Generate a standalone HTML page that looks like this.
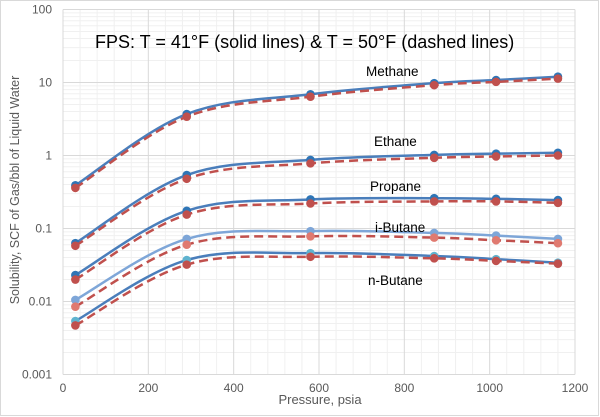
<!DOCTYPE html>
<html><head><meta charset="utf-8"><style>
html,body{margin:0;padding:0;background:#fff}
svg{display:block;font-family:"Liberation Sans",sans-serif}
</style></head><body>
<svg id="s" width="600" height="417" viewBox="0 0 600 417" xmlns="http://www.w3.org/2000/svg">
<rect x="0.5" y="0.5" width="598" height="415" fill="#fff" stroke="#d9d9d9"/>
<g id="grid"></g>
<g id="series"></g>
<g font-size="12" fill="#595959" id="labels"></g>
<text x="95" y="48" font-size="18" fill="#000">FPS: T = 41°F (solid lines) &amp; T = 50°F (dashed lines)</text>
<g font-size="13.5" fill="#000">
<text x="366" y="76">Methane</text>
<text x="374" y="146">Ethane</text>
<text x="370" y="191">Propane</text>
<text x="375" y="232">i-Butane</text>
<text x="368" y="285">n-Butane</text>
</g>
<text x="320" y="404" font-size="13" fill="#595959" text-anchor="middle">Pressure, psia</text>
<text transform="translate(19,190) rotate(-90)" font-size="12.5" fill="#595959" text-anchor="middle">Solubility, SCF of Gas/bbl of Liquid Water</text>
</svg>
<script>
const NS="http://www.w3.org/2000/svg";
const X=v=>63+v*(512/1200), Y=v=>82.5-73*(Math.log10(v)-1);
function el(p,t,a){const e=document.createElementNS(NS,t);for(const k in a)e.setAttribute(k,a[k]);p.appendChild(e);return e;}
const g=document.getElementById('grid'),L=document.getElementById('labels');
for(let d=-3;d<2;d++)for(let m=2;m<10;m++){const y=Y(m*Math.pow(10,d));el(g,'line',{x1:63,x2:575,y1:y,y2:y,stroke:'#f0f0f0','stroke-width':1});}
for(let v=40;v<1200;v+=40){if(v%200)el(g,'line',{x1:X(v),x2:X(v),y1:Y(100),y2:Y(0.001),stroke:'#f0f0f0'});}
for(let v=0;v<=1200;v+=200){el(g,'line',{x1:X(v),x2:X(v),y1:Y(100),y2:Y(0.001),stroke:'#d9d9d9'});const t=el(L,'text',{x:X(v),y:392,'text-anchor':'middle'});t.textContent=v;}
[100,10,1,0.1,0.01,0.001].forEach(v=>{el(g,'line',{x1:63,x2:575,y1:Y(v),y2:Y(v),stroke:'#d9d9d9'});const t=el(L,'text',{x:52,y:Y(v)+4,'text-anchor':'end'});t.textContent=v;});
const P=[29,290,580,870,1015,1160];
const S=[
[[0.39,3.7,6.9,9.8,10.8,12],'#4a7ebb','#2e75b6'],
[[0.36,3.4,6.4,9.2,10.2,11.3],'#c0504d','#c0504d',1],
[[0.063,0.54,0.87,1.02,1.06,1.09],'#4a7ebb','#2e75b6'],
[[0.058,0.48,0.78,0.93,0.97,1.0],'#c0504d','#c0504d',1],
[[0.023,0.175,0.25,0.26,0.255,0.245],'#4a7ebb','#2e75b6'],
[[0.020,0.155,0.22,0.235,0.235,0.225],'#c0504d','#c0504d',1],
[[0.0105,0.072,0.092,0.087,0.08,0.072],'#7ea6d8','#7ea6d8'],
[[0.0085,0.06,0.078,0.075,0.069,0.063],'#c0504d','#e07a70',1],
[[0.0054,0.037,0.046,0.042,0.038,0.034],'#4a7ebb','#5fb3cf'],
[[0.0047,0.032,0.041,0.039,0.036,0.033],'#c0504d','#c0504d',1]];
const sg=document.getElementById('series');
S.forEach(([v,c,mc,dash])=>{
 const pts=P.map((p,i)=>[X(p),Y(v[i])]);
 let d=`M${pts[0][0]},${pts[0][1]}`;
 for(let i=0;i<pts.length-1;i++){const p0=pts[Math.max(0,i-1)],p1=pts[i],p2=pts[i+1],p3=pts[Math.min(pts.length-1,i+2)];const k=0.17;
 d+=` C${p1[0]+(p2[0]-p0[0])*k},${p1[1]+(p2[1]-p0[1])*k} ${p2[0]-(p3[0]-p1[0])*k},${p2[1]-(p3[1]-p1[1])*k} ${p2[0]},${p2[1]}`;}
 const a={d:d,fill:'none',stroke:c,'stroke-width':2.5};if(dash)a['stroke-dasharray']='9,5';
 el(sg,'path',a);
 pts.forEach(p=>el(sg,'circle',{cx:p[0],cy:p[1],r:4.3,fill:mc}));
});
</script>
</body></html>
